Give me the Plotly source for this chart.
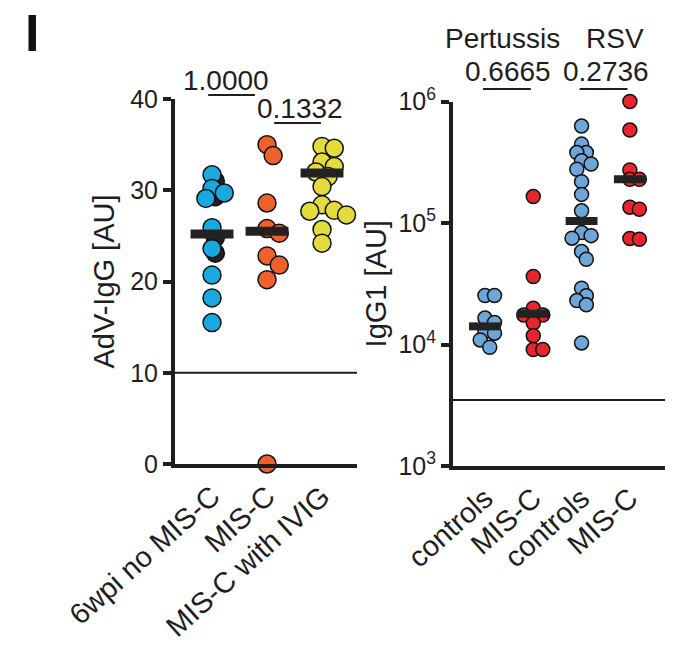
import plotly.graph_objects as go
import numpy as np

# ---------------- data ----------------
left_groups = ["6wpi no MIS-C", "MIS-C", "MIS-C with IVIG"]
adv_6wpi = [31.7, 30.2, 29.7, 29.1, 25.9, 23.6, 20.7, 18.2, 15.5]
adv_6wpi_dark = [31.0, 29.3, 24.8, 23.1]
adv_misc = [35.0, 33.8, 28.6, 25.8, 25.3, 22.8, 21.8, 20.2, 0.0]
adv_ivig = [34.8, 34.6, 33.1, 32.6, 32.0, 31.5, 30.4, 28.4, 27.8, 27.7, 27.3, 25.7, 24.2]
adv_medians = [25.2, 25.5, 31.9]
adv_pvalues = ["1.0000", "0.1332"]
adv_cutoff = 10
left_ticks = [0, 10, 20, 30, 40]

right_groups = ["controls", "MIS-C", "controls", "MIS-C"]
right_antigens = ["Pertussis", "RSV"]
pert_ctrl = [25300, 25300, 16500, 15200, 12800, 12400, 10900, 9500]
pert_misc = [165000, 36300, 19900, 17500, 17500, 15000, 11800, 9100, 9100]
rsv_ctrl = [628000, 446000, 380000, 380000, 325000, 306000, 277000, 219000, 172000,
            126000, 83400, 78700, 75000, 58200, 50300, 29100, 25200, 23000, 21200, 10300]
rsv_misc = [1000000, 582000, 273000, 229000, 229000, 135000, 130000, 74500, 73600]
igg_medians = [14100, 17900, 104000, 229000]
igg_pvalues = ["0.6665", "0.2736"]
igg_cutoff = 3500
right_tickvals = [1e3, 1e4, 1e5, 1e6]
right_ticktext = ["10<sup>3</sup>", "10<sup>4</sup>", "10<sup>5</sup>", "10<sup>6</sup>"]

# ---------------- styling / layout ----------------
W, H = 690, 656
FONT = "Liberation Sans, Arial, sans-serif"
C_BLUE = "#1aa8e0"
C_ORANGE = "#f0602c"
C_YELLOW = "#e3dc3c"
C_LBLUE = "#6ea6da"
C_RED = "#e8252e"
INK = "#1e1e1e"

# pixel geometry of the panels
L_x0, L_x1, L_ytop, L_ybot = 175, 357, 99, 464
R_x0, R_x1, R_ytop, R_ybot = 453, 665, 101.5, 466
L_xr = [-0.673, 2.636]
R_xr = [-0.662, 3.727]


def swarm(vals, y_px_per_unit, x_px_per_unit, diam, log=False, frac=0.62, stepf=0.34):
    """Deterministic beeswarm offsets (in data x units)."""
    ys = [(np.log10(v) if log else v) * y_px_per_unit for v in vals]
    order = sorted(range(len(vals)), key=lambda i: -ys[i])
    placed = []
    offs = [0.0] * len(vals)
    mind = diam * frac
    step = diam * stepf
    for i in order:
        cands = [0]
        for k in range(1, 10):
            cands += [k * step, -k * step]
        for c in cands:
            ok = all((c - px) ** 2 + (ys[i] - py) ** 2 >= mind ** 2 for px, py in placed)
            if ok:
                placed.append((c, ys[i]))
                offs[i] = c / x_px_per_unit
                break
    return offs


L_ypu = (L_ybot - L_ytop) / 40.0
L_xpu = (L_x1 - L_x0) / (L_xr[1] - L_xr[0])
R_ypu = (R_ybot - R_ytop) / 3.0
R_xpu = (R_x1 - R_x0) / (R_xr[1] - R_xr[0])

fig = go.Figure()

# left panel
L_size = 18
offs_d = swarm(adv_6wpi_dark, L_ypu, L_xpu, L_size)
offs = swarm(adv_6wpi, L_ypu, L_xpu, L_size)
fig.add_trace(go.Scatter(x=[0.06 + o for o in offs_d], y=adv_6wpi_dark, mode="markers",
                         marker=dict(size=L_size, color="#222222", line=dict(color="#111", width=1.5)),
                         xaxis="x", yaxis="y", showlegend=False))
fig.add_trace(go.Scatter(x=[0 + o for o in offs], y=adv_6wpi, mode="markers",
                         marker=dict(size=L_size, color=C_BLUE, line=dict(color="#111", width=1.5)),
                         xaxis="x", yaxis="y", showlegend=False))
for gi, (vals, col) in enumerate([(adv_misc, C_ORANGE), (adv_ivig, C_YELLOW)], start=1):
    offs = swarm(vals, L_ypu, L_xpu, L_size)
    fig.add_trace(go.Scatter(x=[gi + o for o in offs], y=vals, mode="markers",
                             marker=dict(size=L_size, color=col, line=dict(color="#111", width=1.5)),
                             xaxis="x", yaxis="y", showlegend=False, cliponaxis=False))
for gi, m in enumerate(adv_medians):
    fig.add_trace(go.Scatter(x=[gi - 0.39, gi + 0.39], y=[m, m], mode="lines",
                             line=dict(color="#222222", width=9), xaxis="x", yaxis="y",
                             showlegend=False))

# right panel
R_size = 14
for gi, (vals, col) in enumerate([(pert_ctrl, C_LBLUE), (pert_misc, C_RED),
                                  (rsv_ctrl, C_LBLUE), (rsv_misc, C_RED)]):
    offs = swarm(vals, R_ypu, R_xpu, R_size, log=True)
    fig.add_trace(go.Scatter(x=[gi + o for o in offs], y=vals, mode="markers",
                             marker=dict(size=R_size, color=col, line=dict(color="#111", width=1.5)),
                             xaxis="x2", yaxis="y2", showlegend=False, cliponaxis=False))
for gi, m in enumerate(igg_medians):
    fig.add_trace(go.Scatter(x=[gi - 0.33, gi + 0.33], y=[m, m], mode="lines",
                             line=dict(color="#222222", width=8), xaxis="x2", yaxis="y2",
                             showlegend=False))

shapes = []
# cutoff lines
shapes.append(dict(type="line", xref="x domain", yref="y", x0=0, x1=1, y0=adv_cutoff, y1=adv_cutoff,
                   line=dict(color=INK, width=2)))
shapes.append(dict(type="line", xref="x2 domain", yref="y2", x0=0, x1=1, y0=igg_cutoff, y1=igg_cutoff,
                   line=dict(color=INK, width=2)))

annotations = []


def py(px):
    return 1 - px / H


TXT = dict(size=28, color=INK, family=FONT)

# left p-values: (line x0, line x1, line y px, text x, text y px)
left_p_pos = [(-0.07, 0.78, 95, 0.25, 80), (1.13, 1.98, 123, 1.6, 108)]
for (a, b, uy, tx, ty), txt in zip(left_p_pos, adv_pvalues):
    shapes.append(dict(type="line", xref="x", yref="paper", x0=a, x1=b, y0=py(uy), y1=py(uy),
                       line=dict(color=INK, width=2)))
    annotations.append(dict(x=tx, y=py(ty), xref="x", yref="paper", text=txt, yanchor="middle",
                            xanchor="center", showarrow=False, font=TXT))
# right p-values
right_p_pos = [(0, 1, 0.47), (2, 3, 2.5)]
for (a, b, tx), txt in zip(right_p_pos, igg_pvalues):
    shapes.append(dict(type="line", xref="x2", yref="paper", x0=a - 0.04, x1=b - 0.05,
                       y0=py(89), y1=py(89), line=dict(color=INK, width=2)))
    annotations.append(dict(x=tx, y=py(72), xref="x2", yref="paper", text=txt, yanchor="middle",
                            xanchor="center", showarrow=False, font=TXT))
annotations.append(dict(x=0.37, y=py(38), xref="x2", yref="paper", text=right_antigens[0],
                        yanchor="middle", showarrow=False, font=TXT))
annotations.append(dict(x=2.7, y=py(38), xref="x2", yref="paper", text=right_antigens[1],
                        yanchor="middle", showarrow=False, font=TXT))
# panel letter
annotations.append(dict(x=32 / W, y=py(33), xref="paper", yref="paper", text="<b>I</b>",
                        xanchor="center", yanchor="middle",
                        showarrow=False, font=dict(size=52, color="#111", family=FONT)))

axis_common = dict(showgrid=False, zeroline=False, showline=True, linecolor=INK, linewidth=4,
                   ticks="outside", tickcolor=INK, tickwidth=4, ticklen=8, automargin=False,
                   tickfont=dict(size=25, color=INK, family=FONT))
xaxis_common = dict(showgrid=False, zeroline=False, showline=True, linecolor=INK, linewidth=4,
                    ticks="", tickangle=-42, tickmode="array", automargin=False,
                    tickfont=dict(size=29, color=INK, family=FONT))

fig.update_layout(
    width=W, height=H, margin=dict(l=0, r=0, t=0, b=0, autoexpand=False),
    paper_bgcolor="white", plot_bgcolor="white",
    font=dict(family=FONT, color=INK),
    shapes=shapes, annotations=annotations,
    xaxis=dict(domain=[L_x0 / W, L_x1 / W], range=L_xr,
               tickvals=[0, 1, 2], ticktext=left_groups, anchor="y", **xaxis_common),
    yaxis=dict(domain=[py(L_ybot), py(L_ytop)], range=[0, 40], tickvals=left_ticks,
               title=dict(text="AdV-IgG [AU]", font=dict(size=29, color=INK, family=FONT), standoff=8),
               anchor="x", **axis_common),
    xaxis2=dict(domain=[R_x0 / W, R_x1 / W], range=R_xr,
                tickvals=[0, 1, 2, 3], ticktext=right_groups, anchor="y2", **xaxis_common),
    yaxis2=dict(domain=[py(R_ybot), py(R_ytop)], type="log", range=[3, 6],
                tickvals=right_tickvals, ticktext=right_ticktext,
                title=dict(text="IgG1 [AU]", font=dict(size=29, color=INK, family=FONT), standoff=4),
                anchor="x2", **axis_common),
)

fig.write_html("out.html")
